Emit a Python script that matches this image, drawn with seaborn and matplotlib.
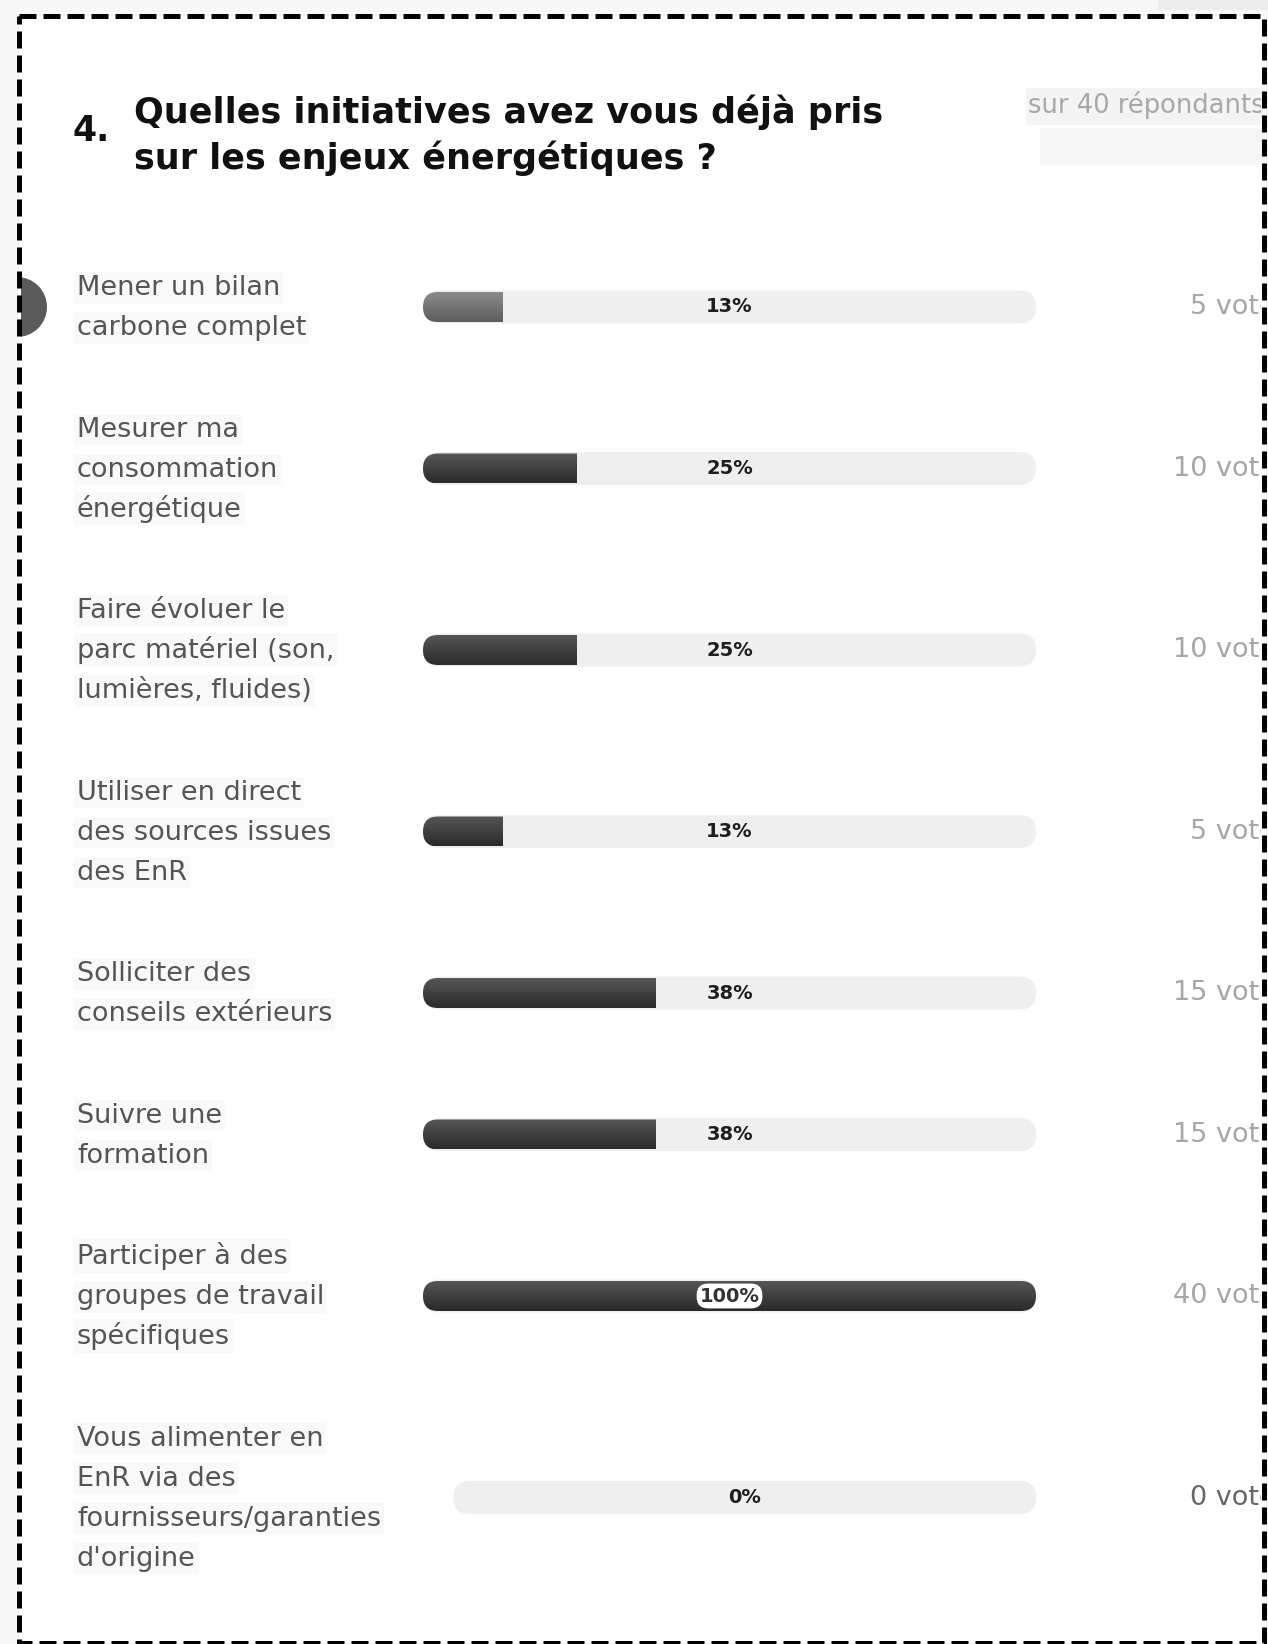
import matplotlib
matplotlib.use("Agg")
import matplotlib.pyplot as plt
import seaborn as sns
import numpy as np
import pandas as pd
from matplotlib.patches import FancyBboxPatch, Rectangle, Circle
from matplotlib.transforms import Bbox, TransformedBbox

# ---- content -------------------------------------------------------------
question_number = "4."
title_lines = ["Quelles initiatives avez vous déjà pris",
               "sur les enjeux énergétiques ?"]
respondents_note = "sur 40 répondants"

initiatives = [
    "Mener un bilan\ncarbone complet",
    "Mesurer ma\nconsommation\nénergétique",
    "Faire évoluer le\nparc matériel (son,\nlumières, fluides)",
    "Utiliser en direct\ndes sources issues\ndes EnR",
    "Solliciter des\nconseils extérieurs",
    "Suivre une\nformation",
    "Participer à des\ngroupes de travail\nspécifiques",
    "Vous alimenter en\nEnR via des\nfournisseurs/garanties\nd'origine",
]
shares = [13, 25, 25, 13, 38, 38, 100, 0]   # percent of respondents
votes = [5, 10, 10, 5, 15, 15, 40, 0]

# ---- layout (pixels) ------------------------------------------------------
W, H = 1268, 1644
sns.set_theme(style="white")
plt.rcParams["font.family"] = ["DejaVu Sans"]

fig = plt.figure(figsize=(W / 100, H / 100), dpi=100)
fig.patch.set_facecolor("#f7f7f7")

ax = fig.add_axes([0, 0, 1, 1])
ax.set_xlim(0, W)
ax.set_ylim(H, 0)
ax.axis("off")
renderer = fig.canvas.get_renderer()

# card with dashed outline
card_l, card_t, card_r, card_b = 19, 16, 1264, 1643
ax.add_patch(Rectangle((1158, 0), W - 1158, 10, fc="#ececec", ec="none", zorder=0))
ax.add_patch(Rectangle((card_l, card_t), card_r - card_l, card_b - card_t,
                       fc="white", ec="none", zorder=1))
inner_clip = TransformedBbox(Bbox([[card_l + 2, card_t], [card_r - 3, card_b]]), ax.transData)

# title, sized so the first line spans the heading column
ax.text(72, 141, question_number, fontsize=25, fontweight="bold",
        color="#111111", zorder=3)
title_objs = []
for k, line in enumerate(title_lines):
    t = ax.text(134, 123 + 46 * k, line, fontsize=22, fontweight="bold",
                color="#111111", zorder=3)
    title_objs.append(t)
fig.canvas.draw()
w0 = title_objs[0].get_window_extent(renderer).width
for t in title_objs:
    t.set_fontsize(22 * 747 / w0)

# respondents note with its faint backdrops
ax.add_patch(Rectangle((1026, 88), card_r - 1026, 37, fc="#f4f4f4", ec="none", zorder=2))
ax.add_patch(Rectangle((1040, 128), card_r - 1040, 37, fc="#f6f6f6", ec="none", zorder=2))
note = ax.text(1028, 113, respondents_note, fontsize=18.5, color="#a8a8a8", zorder=3)
note.set_clip_box(inner_clip)
note.set_clip_on(True)

# rows: spacing follows the number of label lines
line_pitch, row_gap = 40, 61.5
n_lines = [len(s.split("\n")) for s in initiatives]
centers = [307.0]
for i in range(1, len(initiatives)):
    centers.append(centers[-1] + (n_lines[i - 1] + n_lines[i]) / 2 * line_pitch + row_gap)

# left labels, one text per line
label_texts = []
for yc, lab, n in zip(centers, initiatives, n_lines):
    row_items = []
    for k, line in enumerate(lab.split("\n")):
        yb = yc + (k - (n - 1) / 2) * line_pitch + 8
        t = ax.text(77, yb, line, fontsize=19.5, color="#555555", zorder=3,
                    bbox=dict(boxstyle="square,pad=0.1", fc="#f9f9f9", ec="none"))
        row_items.append(t)
    label_texts.append(row_items)

# small badge at the card edge
badge = Circle((17, 307), 30, fc="#5a5a5a", ec="none", zorder=2)
ax.add_patch(badge)
badge.set_clip_box(inner_clip)

# ---- bars ------------------------------------------------------------------
bar_l, bar_r = 423, 1036
px_per_pct = (bar_r - bar_l) / 100
bax = fig.add_axes([bar_l / W, 0, (bar_r - bar_l) / W, 1])
bax.patch.set_visible(False)

df = pd.DataFrame({"share": shares, "row": centers})
sns.barplot(data=df, x="share", y="row", orient="y", native_scale=True,
            errorbar=None, ax=bax, color="#333333")

fig.canvas.draw()

track_h, fill_h = 33, 30
dark = (np.array([0x56, 0x56, 0x56]), np.array([0x2a, 0x2a, 0x2a]))
light = (np.array([0x8c, 0x8c, 0x8c]), np.array([0x5c, 0x5c, 0x5c]))

for p in list(bax.patches):
    yc_bar = p.get_y() + p.get_height() / 2
    w = p.get_width()
    i = int(np.argmin([abs(c - yc_bar) for c in centers]))
    p.set_visible(False)

    # the bar column starts after the widest label line of the row
    lab_right = max(t.get_window_extent(renderer).x1 for t in label_texts[i])
    track_l_px = max(bar_l, lab_right + 72)
    tl = (track_l_px - bar_l) / px_per_pct

    r = (track_h / 2) / px_per_pct
    track = FancyBboxPatch((tl, yc_bar - track_h / 2), 100 - tl, track_h,
                           boxstyle=f"round,pad=0,rounding_size={r}",
                           mutation_aspect=px_per_pct, fc="#efefef", ec="none", zorder=2)
    bax.add_patch(track)

    if w > 0:
        rf = (fill_h / 2) / px_per_pct
        shape = FancyBboxPatch((tl, yc_bar - fill_h / 2), 100 - tl, fill_h,
                               boxstyle=f"round,pad=0,rounding_size={rf}",
                               mutation_aspect=px_per_pct, fc="none", ec="none",
                               transform=bax.transData)
        top, bot = light if i == 0 else dark
        grad = np.linspace(top, bot, 64)[:, None, :] / 255.0
        im = bax.imshow(grad, extent=(tl, tl + w, yc_bar + fill_h / 2, yc_bar - fill_h / 2),
                        aspect="auto", interpolation="bilinear", zorder=3)
        im.set_clip_path(shape)

    # percentage in the middle of the track
    kw = dict(ha="center", va="center", fontsize=14, fontweight="bold",
              color="#1e1e1e", zorder=5)
    if shares[i] == 100:
        kw["bbox"] = dict(boxstyle="round,pad=0.15,rounding_size=0.6", fc="white", ec="none")
        kw["color"] = "#333333"
    bax.text((tl + 100) / 2, yc_bar, f"{shares[i]}%", **kw)

    # vote count at the right edge
    none_yet = votes[i] == 0
    vt = ax.text(1290, yc_bar, f"{votes[i]} votes", ha="right", va="center",
                 fontsize=19.5, color="#666666" if none_yet else "#a6a6a6", zorder=3)
    vt.set_clip_box(inner_clip)
    vt.set_clip_on(True)

bax.set_xlim(0, 100)
bax.set_ylim(H, 0)
bax.axis("off")

# dashed outline on its own overlay so it sits above everything
border_ax = fig.add_axes([0, 0, 1, 1])
border_ax.set_xlim(0, W)
border_ax.set_ylim(H, 0)
border_ax.axis("off")
border_ax.add_patch(Rectangle((card_l, card_t), card_r - card_l, card_b - card_t,
                              fc="none", ec="black", lw=3.6, linestyle=(0, (3.4, 1.4))))

fig.savefig("out.png", dpi=100, facecolor=fig.get_facecolor())
